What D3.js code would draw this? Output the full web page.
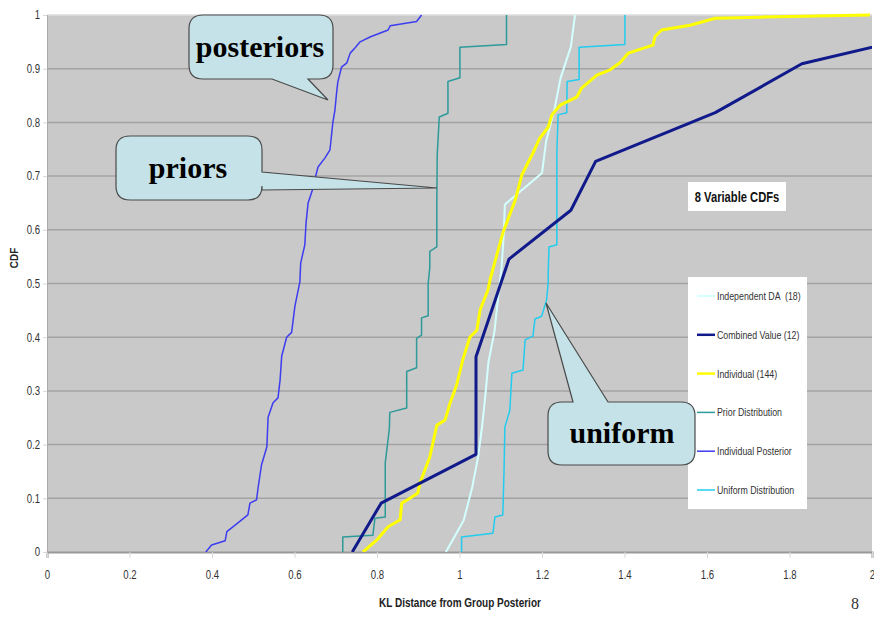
<!DOCTYPE html>
<html><head><meta charset="utf-8">
<script src="https://cdn.jsdelivr.net/npm/d3@7"></script>
<style>body{margin:0;background:#fff}svg{display:block}text{white-space:pre}</style>
</head><body>
<svg id="c" width="874" height="617"></svg>
<script>
// ---- data ----
const xTicks = [0,0.2,0.4,0.6,0.8,1,1.2,1.4,1.6,1.8,2];
const yTicks = [0,0.1,0.2,0.3,0.4,0.5,0.6,0.7,0.8,0.9,1];
const seriesNames = ["Independent DA  (18)","Combined Value (12)","Individual (144)","Prior Distribution","Individual Posterior","Uniform Distribution"];

const independentDA = [[0.967,0],[1.01,0.0588],[1.03,0.1176],[1.045,0.1765],[1.055,0.2353],[1.063,0.2941],[1.07,0.3529],[1.085,0.4118],[1.093,0.4706],[1.102,0.5294],[1.107,0.5882],[1.11,0.6471],[1.2,0.7059],[1.21,0.7647],[1.23,0.8235],[1.245,0.8824],[1.27,0.9412],[1.28,1.0]];
const combinedValue = [[0.74,0],[0.81,0.0909],[1.04,0.1818],[1.04,0.2727],[1.04,0.3636],[1.08,0.4545],[1.12,0.5455],[1.27,0.6364],[1.33,0.7273],[1.62,0.8182],[1.83,0.9091],[2.33,1.0]];
const individual = [[0.766,0],[0.799,0.022],[0.827,0.047],[0.856,0.06],[0.86,0.091],[0.88,0.1],[0.899,0.11],[0.904,0.128],[0.928,0.177],[0.945,0.236],[0.965,0.246],[0.977,0.277],[0.993,0.311],[1.008,0.358],[1.025,0.4],[1.042,0.413],[1.05,0.451],[1.069,0.488],[1.074,0.507],[1.105,0.594],[1.135,0.655],[1.151,0.702],[1.178,0.743],[1.195,0.771],[1.215,0.791],[1.224,0.814],[1.244,0.832],[1.284,0.847],[1.296,0.864],[1.333,0.888],[1.365,0.898],[1.389,0.911],[1.409,0.929],[1.469,0.944],[1.474,0.96],[1.49,0.972],[1.559,0.981],[1.62,0.994],[1.728,0.996],[1.995,1.0]];
const priorDist = [[0.717,0],[0.717,0.028],[0.79,0.031],[0.795,0.063],[0.82,0.065],[0.82,0.166],[0.83,0.23],[0.831,0.26],[0.872,0.268],[0.872,0.336],[0.896,0.343],[0.896,0.398],[0.908,0.404],[0.908,0.436],[0.924,0.44],[0.924,0.5],[0.928,0.53],[0.928,0.56],[0.945,0.568],[0.945,0.65],[0.946,0.74],[0.951,0.81],[0.972,0.817],[0.972,0.876],[1.001,0.883],[1.001,0.94],[1.114,0.945],[1.114,1.0]];
const individualPosterior = [[0.385,0],[0.399,0.013],[0.432,0.021],[0.436,0.038],[0.456,0.05],[0.487,0.069],[0.492,0.091],[0.508,0.097],[0.512,0.121],[0.52,0.162],[0.533,0.196],[0.536,0.251],[0.548,0.278],[0.56,0.287],[0.565,0.32],[0.569,0.365],[0.581,0.4],[0.593,0.409],[0.601,0.458],[0.613,0.503],[0.615,0.538],[0.625,0.572],[0.628,0.613],[0.633,0.65],[0.645,0.678],[0.65,0.696],[0.657,0.717],[0.674,0.734],[0.686,0.749],[0.693,0.8],[0.698,0.823],[0.702,0.855],[0.705,0.875],[0.714,0.903],[0.727,0.911],[0.735,0.929],[0.747,0.939],[0.759,0.95],[0.783,0.959],[0.827,0.972],[0.832,0.98],[0.896,0.988],[0.908,1.0]];
const uniformDist = [[1.005,0],[1.005,0.028],[1.081,0.035],[1.086,0.065],[1.105,0.069],[1.108,0.152],[1.11,0.233],[1.122,0.264],[1.127,0.333],[1.154,0.339],[1.159,0.395],[1.178,0.402],[1.183,0.434],[1.199,0.439],[1.211,0.469],[1.215,0.5],[1.215,0.52],[1.217,0.568],[1.236,0.572],[1.236,0.743],[1.239,0.814],[1.26,0.818],[1.261,0.876],[1.29,0.88],[1.29,0.94],[1.401,0.945],[1.401,1.0]];

// ---- layout ----
const svg = d3.select("#c");
const L = 47, R = 872, T = 15, B = 552;
const x = d3.scaleLinear().domain([0,2]).range([L,R]);
const y = d3.scaleLinear().domain([0,1]).range([B,T]);
const sans = "'Liberation Sans',Arial,sans-serif";
const SQ = 0.8; // horizontal squeeze to imitate a narrow face

function narrowText(g, tx, ty, str, size, opts={}){
  const t = g.append("text").attr("transform",`translate(${tx},${ty}) scale(${SQ},1)`)
    .attr("font-family",sans).attr("font-size",size).attr("fill",opts.fill||"#222")
    .attr("text-anchor",opts.anchor||"start").text(str);
  if(opts.bold) t.attr("font-weight","bold");
  return t;
}

svg.append("rect").attr("x",L).attr("y",T).attr("width",R-L).attr("height",B-T).attr("fill","#c9c9c9");
// gridlines
svg.append("g").selectAll("line").data(yTicks.filter(d=>d>0)).join("line")
  .attr("x1",L).attr("x2",R).attr("y1",d=>y(d)).attr("y2",d=>y(d))
  .attr("stroke",d=>d===1?"#dcdcdc":"#a3a3a3").attr("stroke-width",1.5);

// axes
const xAxis = svg.append("g").attr("transform",`translate(0,${B})`)
  .call(d3.axisBottom(x).tickValues(xTicks).tickFormat(d3.format("~g")).tickSize(6).tickPadding(12));
const yAxis = svg.append("g").attr("transform",`translate(${L},0)`)
  .call(d3.axisLeft(y).tickValues(yTicks).tickFormat(d3.format("~g")).tickSize(4).tickPadding(3));
[xAxis,yAxis].forEach(g=>{
  g.select(".domain").attr("stroke","#999").attr("stroke-width",2);
  g.selectAll(".tick line").attr("stroke","#d8d8d8");
  g.selectAll("text").attr("font-family",sans).attr("font-size",12).attr("fill","#333")
    .attr("transform",`scale(${SQ},1)`);
});
yAxis.selectAll("text").attr("x",-7/SQ);
yAxis.select(".domain").attr("stroke","#aaa").attr("stroke-width",1);

// clip
svg.append("clipPath").attr("id","clip").append("rect").attr("x",L).attr("y",T-2).attr("width",R-L).attr("height",B-T+2);

const line = d3.line().x(d=>x(d[0])).y(d=>y(d[1]));
const series = [
  {data:independentDA, color:"#d4ffff", w:2},
  {data:combinedValue, color:"#101a8a", w:3},
  {data:individual, color:"#ffff00", w:3},
  {data:priorDist, color:"#2e9a9a", w:1.5},
  {data:individualPosterior, color:"#3c3cf0", w:1.5},
  {data:uniformDist, color:"#22ccee", w:1.5}
];
const gL = svg.append("g").attr("clip-path","url(#clip)");
[3,4,5,0,2,1].forEach(i=>{
  gL.append("path").datum(series[i].data).attr("d",line).attr("fill","none")
    .attr("stroke",series[i].color).attr("stroke-width",series[i].w).attr("stroke-linejoin","round");
});

// axis titles
svg.append("text").attr("transform","translate(18,258) rotate(-90)").attr("text-anchor","middle")
  .attr("font-family",sans).attr("font-weight","bold").attr("font-size",10).attr("fill","#222").text("CDF");
narrowText(svg,460,607,"KL Distance from Group Posterior",12.5,{anchor:"middle",bold:true});
svg.append("text").attr("x",855).attr("y",609).attr("text-anchor","middle")
  .attr("font-family","'Liberation Serif','Times New Roman',serif").attr("font-size",16).attr("fill","#333").text("8");

// title box
svg.append("rect").attr("x",688).attr("y",182).attr("width",98).attr("height",29).attr("fill","#fff");
narrowText(svg,737,202,"8 Variable CDFs",14,{anchor:"middle",bold:true,fill:"#111"});

// legend
const lg = svg.append("g");
lg.append("rect").attr("x",688).attr("y",277).attr("width",119).attr("height",232).attr("fill","#fff");
const ly = d3.scalePoint().domain(d3.range(6)).range([296,490]);
seriesNames.forEach((n,i)=>{
  lg.append("line").attr("x1",697).attr("x2",715).attr("y1",ly(i)).attr("y2",ly(i))
    .attr("stroke",series[i].color).attr("stroke-width",Math.min(series[i].w,2.5));
  narrowText(lg,717,ly(i)+4,n,11,{fill:"#333"});
});

// callouts
function callout(x0,y0,x1,y1,r,tail,label,tx,ty){
  const p = d3.path();
  p.moveTo(x0+r,y0);
  if(tail.side==="top"){ p.lineTo(tail.a,y0); p.lineTo(tail.tip[0],tail.tip[1]); p.lineTo(tail.b,y0); }
  p.lineTo(x1-r,y0); p.quadraticCurveTo(x1,y0,x1,y0+r);
  if(tail.side==="right"){ p.lineTo(x1,tail.a); p.lineTo(tail.tip[0],tail.tip[1]); p.lineTo(x1,tail.b); }
  p.lineTo(x1,y1-r); p.quadraticCurveTo(x1,y1,x1-r,y1);
  if(tail.side==="bottom"){ p.lineTo(tail.b,y1); p.lineTo(tail.tip[0],tail.tip[1]); p.lineTo(tail.a,y1); }
  p.lineTo(x0+r,y1); p.quadraticCurveTo(x0,y1,x0,y1-r);
  p.lineTo(x0,y0+r); p.quadraticCurveTo(x0,y0,x0+r,y0);
  p.closePath();
  svg.append("path").attr("d",p.toString()).attr("fill","#c4e2e7").attr("stroke","#4a4a4a").attr("stroke-width",1.2);
  svg.append("text").attr("x",tx).attr("y",ty).attr("text-anchor","middle")
    .attr("font-family","'Liberation Serif','Times New Roman',serif").attr("font-weight","bold").attr("font-size",30).attr("fill","#000").text(label);
}
callout(189,15,333,79,14,{side:"bottom",a:272,b:308,tip:[328,100]},"posteriors",260,57);
callout(116,136,262,200,14,{side:"right",a:172,b:190,tip:[437,188]},"priors",188,178);
callout(548,402,695,465,14,{side:"top",a:573,b:608,tip:[546,303]},"uniform",622,443);
</script>
</body></html>
